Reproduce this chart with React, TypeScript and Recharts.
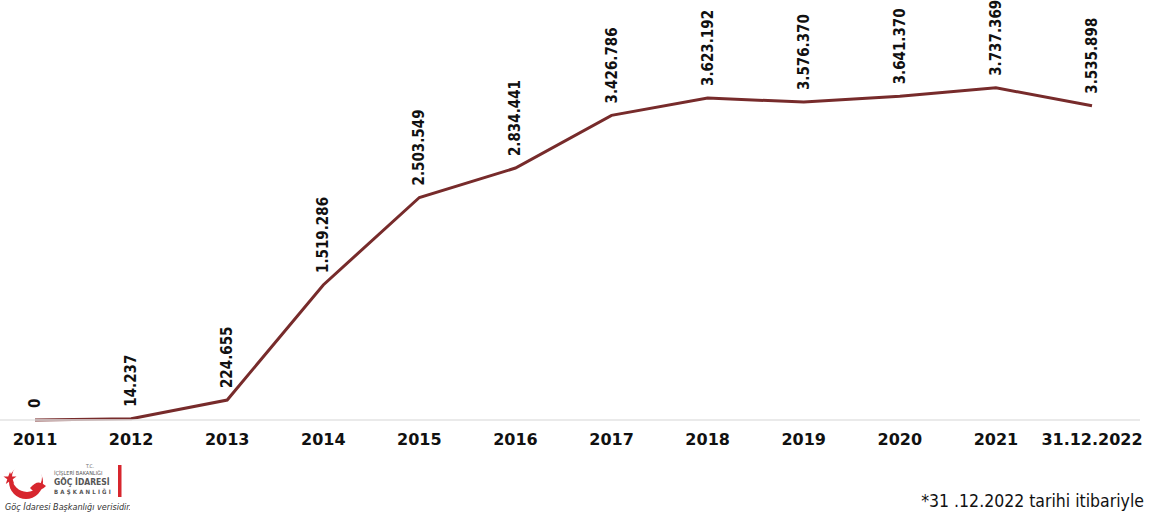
import React from 'react';
import { LineChart, Line, XAxis, YAxis, LabelList } from 'recharts';

const categories = ['2011', '2012', '2013', '2014', '2015', '2016', '2017', '2018', '2019', '2020', '2021', '31.12.2022'];
const values = [0, 14237, 224655, 1519286, 2503549, 2834441, 3426786, 3623192, 3576370, 3641370, 3737369, 3535898];
const footnote = '*31 .12.2022 tarihi itibariyle';

const data = categories.map((c, i) => ({ year: c, value: values[i] }));

const fmt = (v: number) => String(v).replace(/\B(?=(\d{3})+(?!\d))/g, '.');

const LabelNarrow = 'Liberation Sans Narrow, DejaVu Sans Condensed, Arial Narrow, sans-serif';

const renderLabel = (props: any) => {
  const { x, y, value } = props;
  const ty = y - 12;
  return (
    <text
      x={x}
      y={ty}
      transform={`rotate(-90, ${x}, ${ty})`}
      textAnchor="start"
      dominantBaseline="central"
      fontFamily={LabelNarrow}
      fontWeight="bold"
      fontSize={15}
      fill="#111"
    >
      {fmt(value)}
    </text>
  );
};

const Logo = () => (
  <svg width={130} height={56} style={{ position: 'absolute', left: 0, top: 460 }}>
    <defs>
      <mask id="cres">
        <rect x="0" y="0" width="60" height="56" fill="white" />
        <circle cx="27" cy="17" r="15" fill="black" />
      </mask>
    </defs>
    <circle cx="26" cy="22" r="17" fill="#d7262e" mask="url(#cres)" />
    <path d="M30 28 Q38 18 46 26 Q42 30 34 32 Z" fill="#d7262e" />
    <polygon
      points="10,12 11.8,16.5 16.5,16.5 12.7,19.3 14.2,24 10,21 5.8,24 7.3,19.3 3.5,16.5 8.2,16.5"
      fill="#d7262e"
    />
    <text x="86" y="8" fontSize="5" fill="#666" fontFamily="DejaVu Sans Condensed, sans-serif">T.C.</text>
    <text x="54" y="15" fontSize="5.5" fill="#555" fontFamily="DejaVu Sans Condensed, sans-serif">İÇİŞLERİ BAKANLIĞI</text>
    <text x="54" y="25" fontSize="8.5" fontWeight="bold" fill="#555" fontFamily="DejaVu Sans Condensed, sans-serif">GÖÇ İDARESİ</text>
    <text x="54" y="34" fontSize="6" fontWeight="bold" letterSpacing="2.2" fill="#555" fontFamily="DejaVu Sans Condensed, sans-serif">BAŞKANLIĞI</text>
    <rect x="118" y="5" width="3.5" height="32" fill="#d7262e" />
    <text x="5" y="50" fontSize="9" fontStyle="italic" fill="#333" fontFamily="DejaVu Sans Condensed, sans-serif">Göç İdaresi Başkanlığı verisidir.</text>
  </svg>
);

export default function App() {
  return (
    <div style={{ position: 'absolute', left: 0, top: 0, width: 1149, height: 516, background: '#fff', overflow: 'hidden' }}>
      <LineChart width={1149} height={460} data={data} margin={{ top: 20, right: 9, bottom: 0, left: 0 }}>
        <XAxis
          dataKey="year"
          padding={{ left: 35, right: 48 }}
          axisLine={{ stroke: '#e3e3e3', strokeWidth: 1.5 }}
          tickLine={false}
          tickSize={0}
          tickMargin={14}
          height={40}
          interval={0}
          tick={{ fontFamily: 'DejaVu Sans, Verdana, sans-serif', fontWeight: 'bold', fontSize: 16, fill: '#111' }}
        />
        <YAxis hide domain={[0, 4500000]} />
        <Line
          type="linear"
          dataKey="value"
          stroke="#772b2b"
          strokeWidth={3}
          dot={false}
          activeDot={false}
          isAnimationActive={false}
        >
          <LabelList dataKey="value" content={renderLabel} />
        </Line>
      </LineChart>
      <Logo />
      <div
        style={{
          position: 'absolute',
          right: 5,
          top: 491,
          fontFamily: LabelNarrow,
          fontSize: 17.5,
          color: '#111',
          whiteSpace: 'nowrap',
        }}
      >
        {footnote}
      </div>
    </div>
  );
}
